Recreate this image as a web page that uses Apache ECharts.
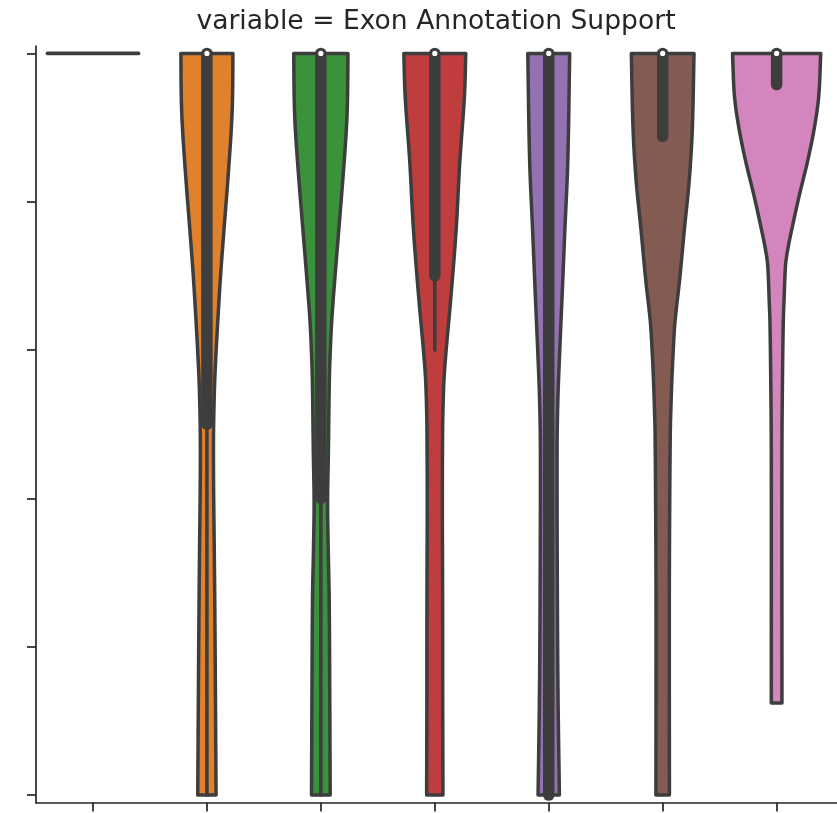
<!DOCTYPE html>
<html><head><meta charset="utf-8">
<script src="https://cdn.jsdelivr.net/npm/echarts@6/dist/echarts.min.js"></script>
<style>html,body{margin:0;padding:0;background:#fff}#c{width:837px;height:813px}</style>
</head><body><div id="c"></div>
<script>
// ---- data ----
const titleText = 'variable = Exon Annotation Support';
const categories = ['c0', 'c1', 'c2', 'c3', 'c4', 'c5', 'c6']; // tick labels are not shown in the reference
const colors = ['#3274a1', '#e1812c', '#3a923a', '#c03d3e', '#9372b2', '#845b53', '#d585bd'];
const yTicks = [0, 1, 2, 3, 4, 5];
const xTicks = [0, 1, 2, 3, 4, 5, 6];

// violin density profiles (value level -> relative half width, 1 = widest violin)
const levels0 = [5];
const density0 = [];
const levels1 = [5.00, 4.70, 4.49, 4.15, 3.81, 3.50, 3.23, 2.98, 2.78, 2.46, 2.11, 1.67, 1.32, 0.64, 0.00];
const density1 = [0.571, 0.562, 0.535, 0.460, 0.374, 0.299, 0.245, 0.200, 0.170, 0.146, 0.146, 0.161, 0.172, 0.188, 0.201];
const levels2 = [5.00, 4.70, 4.49, 4.15, 3.68, 3.23, 2.98, 2.78, 2.33, 1.97, 1.67, 1.32, 0.64, 0.00];
const density2 = [0.595, 0.585, 0.560, 0.482, 0.359, 0.245, 0.205, 0.185, 0.166, 0.148, 0.161, 0.183, 0.196, 0.205];
const levels3 = [5.00, 4.71, 4.27, 3.81, 3.36, 3.02, 2.82, 2.64, 2.46, 1.99, 1.32, 0.64, 0.00];
const density3 = [0.680, 0.650, 0.549, 0.468, 0.354, 0.255, 0.205, 0.183, 0.172, 0.166, 0.172, 0.174, 0.179];
const levels4 = [5.00, 4.27, 3.81, 3.36, 3.00, 2.67, 2.33, 1.32, 0.64, 0.00];
const density4 = [0.460, 0.418, 0.354, 0.293, 0.242, 0.201, 0.183, 0.190, 0.205, 0.234];
const levels5 = [5.00, 4.49, 4.15, 3.81, 3.48, 3.19, 3.00, 2.80, 2.60, 2.46, 1.99, 1.32, 0.00];
const density5 = [0.688, 0.650, 0.584, 0.475, 0.374, 0.270, 0.232, 0.202, 0.180, 0.168, 0.155, 0.146, 0.148];
const levels6 = [5.00, 4.71, 4.49, 4.27, 4.04, 3.81, 3.70, 3.59, 3.48, 3.36, 3.19, 2.78, 2.33, 0.62];
const density6 = [0.968, 0.924, 0.823, 0.677, 0.495, 0.330, 0.257, 0.201, 0.180, 0.166, 0.146, 0.128, 0.117, 0.117];

// inner box statistics
const q1 = [5, 2.5, 2.0, 3.5, 0, 4.44, 4.79];
const q3 = [5, 5, 5, 5, 5, 5, 5];
const medians = [5, 5, 5, 5, 5, 5, 5];
const whiskerLow = [5, 0, 0, 3.0, 0, 4.44, 4.79];
const whiskerHigh = [5, 5, 5, 5, 5, 5, 5];

const allLevels = [levels0, levels1, levels2, levels3, levels4, levels5, levels6];
const allDensity = [density0, density1, density2, density3, density4, density5, density6];

// ---- helpers: cubic Hermite curve through the profile points (rendering only) ----
function smoothCurve(xs, ys) {
  const n = xs.length, ts = [];
  for (let i = 0; i < n; i++) {
    if (i === 0) ts.push((ys[1] - ys[0]) / (xs[1] - xs[0]));
    else if (i === n - 1) ts.push((ys[n - 1] - ys[n - 2]) / (xs[n - 1] - xs[n - 2]));
    else ts.push((ys[i + 1] - ys[i - 1]) / (xs[i + 1] - xs[i - 1]));
  }
  return function (x) {
    let i = 0;
    while (i < n - 2 && x > xs[i + 1]) i++;
    const h = xs[i + 1] - xs[i], t = (x - xs[i]) / h;
    const t2 = t * t, t3 = t2 * t;
    const h00 = 2 * t3 - 3 * t2 + 1, h10 = t3 - 2 * t2 + t, h01 = -2 * t3 + 3 * t2, h11 = t3 - t2;
    return h00 * ys[i] + h10 * h * ts[i] + h01 * ys[i + 1] + h11 * h * ts[i + 1];
  };
}

const gray = '#3d3d3d';

function renderItem(params, api) {
  const idx = api.value(0);
  const band = api.size([1, 0])[0];
  const scale = 0.4 * band;
  const cx = api.coord([idx, 0])[0];
  const Y = v => api.coord([idx, v])[1];
  const lv = allLevels[idx], dn = allDensity[idx];
  const children = [];
  if (lv.length === 1) {
    const y = Y(lv[0]);
    children.push({
      type: 'line', shape: { x1: cx - scale, y1: y, x2: cx + scale, y2: y },
      style: { stroke: gray, lineWidth: 3.6, lineCap: 'round' }
    });
    return { type: 'group', children };
  }
  const xs = lv.slice().reverse(), ys = dn.slice().reverse();
  const f = smoothCurve(xs, ys);
  const vmin = xs[0], vmax = xs[xs.length - 1];
  const N = 200;
  const right = [], left = [];
  for (let k = 0; k <= N; k++) {
    const v = vmin + (vmax - vmin) * k / N;
    right.push([cx + f(v) * scale, Y(v)]);
  }
  for (let k = N; k >= 0; k--) {
    const v = vmin + (vmax - vmin) * k / N;
    left.push([cx - f(v) * scale, Y(v)]);
  }
  children.push({
    type: 'polygon', shape: { points: right.concat(left) },
    style: { fill: colors[idx], stroke: gray, lineWidth: 3.5, lineJoin: 'round' }
  });
  if (whiskerLow[idx] < q1[idx] || whiskerHigh[idx] > q3[idx]) {
    children.push({
      type: 'line', shape: { x1: cx, y1: Y(whiskerLow[idx]), x2: cx, y2: Y(whiskerHigh[idx]) },
      style: { stroke: gray, lineWidth: 3.6, lineCap: 'round' }
    });
  }
  children.push({
    type: 'line', shape: { x1: cx, y1: Y(q1[idx]), x2: cx, y2: Y(q3[idx]) },
    style: { stroke: gray, lineWidth: 11.5, lineCap: 'round' }
  });
  children.push({
    type: 'circle', shape: { cx: cx, cy: Y(medians[idx]), r: 3.6 },
    style: { fill: '#ffffff', stroke: gray, lineWidth: 2 }
  });
  return { type: 'group', children };
}

const chart = echarts.init(document.getElementById('c'), null, { renderer: 'canvas' });
chart.setOption({
  animation: false,
  backgroundColor: '#ffffff',
  title: {
    text: titleText, left: 431, top: 4, textAlign: 'center',
    textStyle: { fontFamily: 'DejaVu Sans', fontSize: 26.6, fontWeight: 'normal', color: '#262626' }
  },
  grid: { left: 36, right: 0, top: 46, bottom: 10.5, containLabel: false },
  xAxis: {
    type: 'value', min: -0.5, max: 6.53,
    axisLine: { show: true, onZero: false, lineStyle: { color: '#262626', width: 1.7 } },
    axisTick: { show: true, customValues: xTicks, length: 9, lineStyle: { color: '#262626', width: 1.7 } },
    axisLabel: { show: false, customValues: xTicks },
    splitLine: { show: false }
  },
  yAxis: {
    type: 'value', min: -0.05, max: 5.05,
    axisLine: { show: true, onZero: false, lineStyle: { color: '#262626', width: 1.7 } },
    axisTick: { show: true, customValues: yTicks, length: 9, lineStyle: { color: '#262626', width: 1.7 } },
    axisLabel: { show: false, customValues: yTicks },
    splitLine: { show: false }
  },
  series: [{
    type: 'custom',
    clip: false,
    renderItem: renderItem,
    data: categories.map((c, i) => [i, medians[i]]),
    encode: { x: 0, y: 1 }
  }]
});
</script></body></html>
